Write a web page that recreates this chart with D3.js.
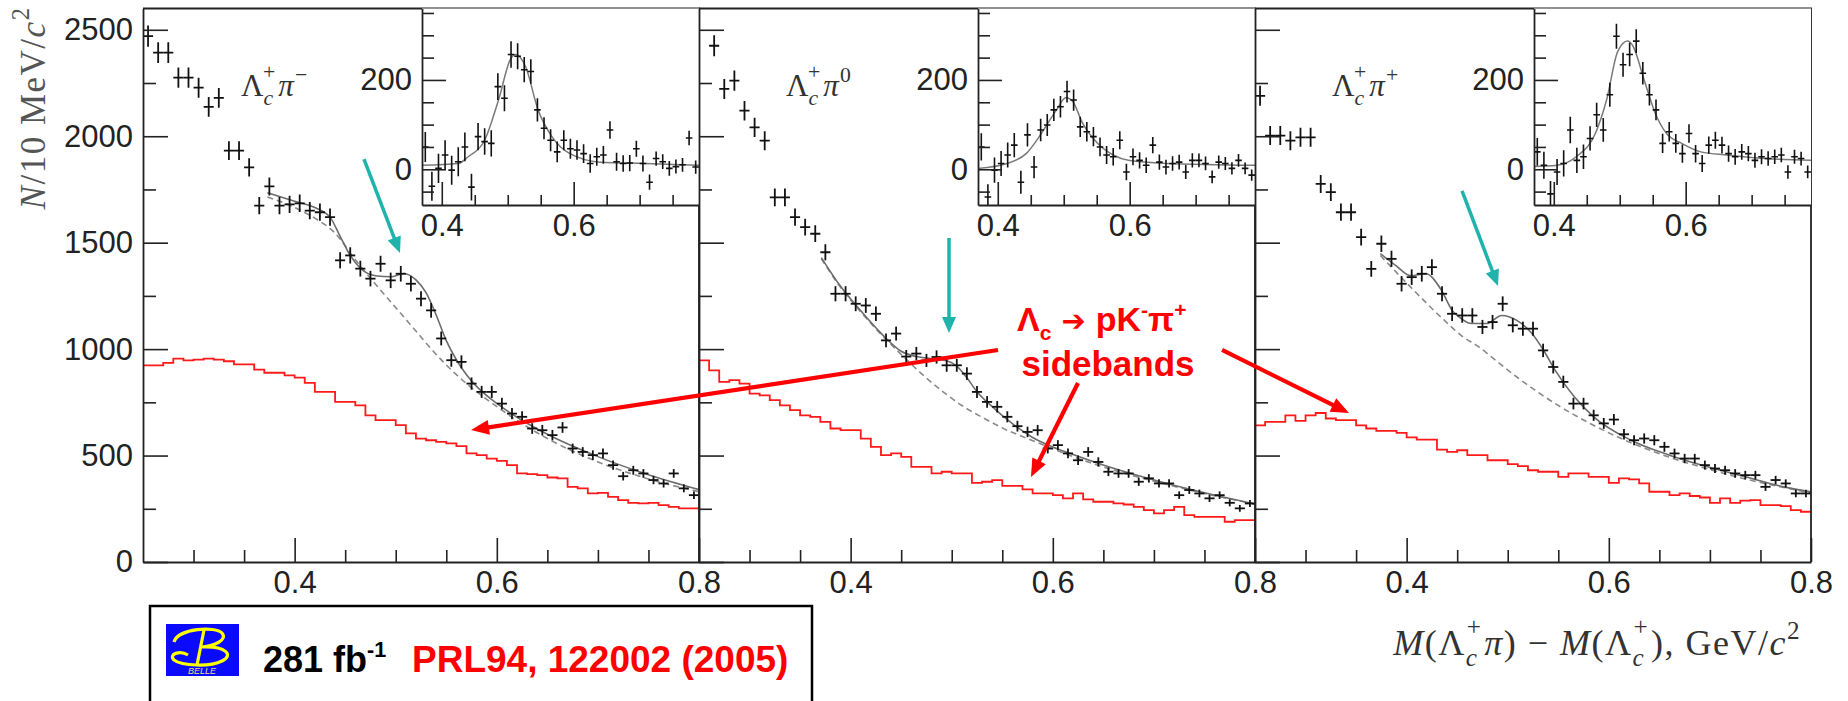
<!DOCTYPE html>
<html>
<head>
<meta charset="utf-8">
<title>Λc π mass-difference spectra</title>
<script src="https://cdn.jsdelivr.net/npm/d3@7/dist/d3.min.js"></script>
<style>
  html, body { margin: 0; padding: 0; background: #fff; }
  svg { display: block; }
</style>
</head>
<body>
<svg id="chart" width="1848" height="701"></svg>
<script>
// ---------- bin centres, GeV/c^2 (10 MeV bins) ----------
const massBins = [0.255,0.265,0.275,0.285,0.295,0.305,0.315,0.325,0.335,0.345,0.355,0.365,0.375,0.385,0.395,
  0.405,0.415,0.425,0.435,0.445,0.455,0.465,0.475,0.485,0.495,0.505,0.515,0.525,0.535,0.545,0.555,0.565,0.575,
  0.585,0.595,0.605,0.615,0.625,0.635,0.645,0.655,0.665,0.675,0.685,0.695,0.705,0.715,0.725,0.735,0.745,0.755,
  0.765,0.775,0.785,0.795];
const insetBins = [0.375,0.385,0.395,0.405,0.415,0.425,0.435,0.445,0.455,0.465,0.475,0.485,0.495,0.505,0.515,
  0.525,0.535,0.545,0.555,0.565,0.575,0.585,0.595,0.605,0.615,0.625,0.635,0.645,0.655,0.665,0.675,0.685,0.695,
  0.705,0.715,0.725,0.735,0.745,0.755,0.765,0.775,0.785];

// ---------- signal-region spectra, N / 10 MeV/c^2 ----------
const countsPiMinus = [2470,2393,2393,2275,2275,2228,2138,2180,1932,1932,1854,1674,1764,1674,1680,1685,1651,1643,
  1620,1417,1440,1378,1331,1401,1323,1354,1307,1237,1182,1050,948,940,838,799,799,744,697,682,627,619,596,632,533,
  517,502,510,455,403,431,416,385,369,416,346,314];
const countsPiZero = [2720,2425,2222,2261,2120,2042,1979,1713,1713,1620,1573,1542,1455,1260,1260,1213,1205,1166,
  1041,1073,965,979,947,963,924,924,885,799,752,729,682,638,611,619,533,549,510,478,517,470,424,416,416,377,393,
  369,369,314,338,322,299,314,278,252,275];
const countsPiPlus = [2190,2003,2003,1979,1995,1995,1776,1737,1643,1643,1526,1377,1495,1424,1307,1338,1354,1385,
  1260,1166,1158,1158,1104,1127,1213,1112,1096,1096,994,916,846,744,744,689,651,669,600,572,580,572,541,510,486,
  486,455,439,431,416,408,408,353,385,369,322,322];

// ---------- Λc → pK−π+ mass sidebands ----------
const sidebandPiMinus = [924,924,935,955,947,951,955,951,943,928,928,904,889,889,877,866,841,799,799,752,752,736,
  689,666,666,643,604,580,572,564,557,544,510,502,486,475,455,416,413,408,397,393,353,346,322,325,306,291,278,275,
  278,267,259,252,252];
const sidebandPiZero = [947,900,846,854,838,791,783,760,736,713,689,682,658,627,619,619,580,541,502,510,494,447,447,
  416,424,416,416,372,377,385,358,358,341,322,322,314,299,322,294,283,283,275,270,259,244,228,244,259,220,212,212,
  212,189,197,197];
const sidebandPiPlus = [642,658,658,689,663,689,700,674,666,666,642,627,616,616,607,585,575,575,528,517,525,502,502,
  478,478,460,450,431,424,424,400,416,416,400,400,372,393,388,369,330,330,314,322,310,303,278,299,278,288,291,267,
  267,262,244,236];

// ---------- total fit (solid) and background (dashed), [mass, N] ----------
const fitPiMinus = [[0.373,1735],[0.40,1695],[0.42,1665],[0.435,1620],[0.445,1530],[0.455,1440],[0.465,1380],
  [0.48,1345],[0.495,1340],[0.508,1355],[0.52,1325],[0.53,1265],[0.54,1160],[0.55,1040],[0.56,950],[0.57,880],
  [0.58,825],[0.60,745],[0.62,680],[0.65,600],[0.70,495],[0.75,410],[0.80,340]];
const bkgPiMinus = [[0.373,1715],[0.40,1665],[0.42,1615],[0.44,1545],[0.46,1420],[0.48,1305],[0.50,1195],
  [0.52,1085],[0.54,975],[0.56,880],[0.60,730],[0.65,580],[0.70,470],[0.75,390],[0.80,330]];
const fitPiZero = [[0.371,1430],[0.39,1295],[0.41,1180],[0.43,1075],[0.45,990],[0.465,965],[0.48,955],[0.495,945],
  [0.505,920],[0.515,865],[0.525,800],[0.54,730],[0.56,650],[0.58,585],[0.60,540],[0.62,505],[0.66,440],[0.70,385],
  [0.75,325],[0.80,272]];
const bkgPiZero = [[0.371,1425],[0.39,1290],[0.41,1175],[0.43,1070],[0.45,975],[0.47,885],[0.49,805],[0.51,735],
  [0.53,680],[0.55,630],[0.58,570],[0.62,495],[0.66,432],[0.70,380],[0.75,322],[0.80,272]];
const fitPiPlus = [[0.374,1448],[0.39,1390],[0.404,1345],[0.419,1354],[0.434,1280],[0.445,1182],[0.455,1140],
  [0.464,1120],[0.479,1120],[0.494,1158],[0.509,1135],[0.524,1073],[0.536,990],[0.547,900],[0.566,775],[0.585,682],
  [0.622,572],[0.66,502],[0.698,447],[0.735,400],[0.773,353],[0.80,330]];
const bkgPiPlus = [[0.374,1440],[0.404,1291],[0.434,1150],[0.456,1057],[0.47,1015],[0.49,940],[0.509,869],
  [0.547,744],[0.585,642],[0.622,560],[0.66,492],[0.698,437],[0.735,390],[0.773,350],[0.80,325]];

// ---------- background-subtracted insets ----------
const insetPiMinus = [50,-38,2,32,-2,17,50,-40,73,62,58,185,159,257,253,223,219,133,92,65,39,65,46,43,35,13,28,32,
  88,17,13,14,46,13,-29,24,17,2,6,10,70,5];
const insetPiZero = [50,-62,-2,13,32,54,-29,77,5,88,99,133,140,174,155,95,84,73,50,32,28,65,-6,28,20,9,54,16,5,13,
  16,-6,20,20,13,-17,16,13,2,20,2,-13];
const insetPiPlus = [39,9,-55,-6,13,88,20,28,69,122,88,167,298,234,257,287,215,167,133,58,84,58,35,80,35,13,54,65,
  54,35,28,39,35,20,28,24,28,32,-6,28,24,-6];
const insetFitPiMinus = [[0.37,9],[0.425,13],[0.44,28],[0.465,65],[0.486,155],[0.505,249],[0.512,257],[0.527,230],
  [0.546,133],[0.567,73],[0.593,36],[0.64,16],[0.708,13],[0.79,9]];
const insetFitPiZero = [[0.37,2],[0.414,13],[0.443,35],[0.466,80],[0.489,133],[0.503,160],[0.512,155],[0.529,102],
  [0.552,57],[0.575,32],[0.598,20],[0.655,13],[0.79,9]];
const insetFitPiPlus = [[0.37,6],[0.405,9],[0.434,28],[0.463,80],[0.48,155],[0.497,264],[0.512,287],[0.52,276],
  [0.537,200],[0.554,125],[0.571,80],[0.594,58],[0.623,39],[0.663,32],[0.72,24],[0.79,20]];

// ---------- axes ----------
const mainYTicks = [0, 500, 1000, 1500, 2000, 2500];
const mainYMinor = [250, 750, 1250, 1750, 2250];
const mainXTicks = [0.4, 0.6, 0.8];
const mainXMinor = [0.3, 0.35, 0.45, 0.5, 0.55, 0.65, 0.7, 0.75];
const insetYTicks = [0, 200];
const insetYMinor = [-50, 50, 100, 150, 250, 300, 350];
const insetXTicks = [0.4, 0.6];
const insetXMinor = [0.45, 0.5, 0.55, 0.65, 0.7, 0.75];

// ---------- annotation arrows: [panel, mass, N] ----------
const sidebandArrows = [
  [[1, 0.5458, 996], [0, 0.5745, 620]],
  [[1, 0.6249, 841], [1, 0.5784, 399]],
  [[1, 0.7674, 996], [2, 0.343, 700]]
];
const signalArrows = [
  [[0, 0.4686, 1893], [0, 0.5042, 1452]],
  [[1, 0.4973, 1522], [1, 0.4973, 1076]],
  [[2, 0.4548, 1743], [2, 0.4904, 1297]]
];

// ================= drawing =================
const svg = d3.select('#chart');
const SANS = "'Liberation Sans', Arimo, Arial, sans-serif";
const SERIF = "'Liberation Serif', 'Times New Roman', serif";
const INK = '#222';

const plotLeft = 143, plotRight = 1811, plotTop = 8.5, plotBottom = 562;
const panelWidth = (plotRight - plotLeft) / 3;
const insetOffset = 279, insetBottom = 205;
const insetErrScale = 0.8;   // inset uses a tighter selection

const y = d3.scaleLinear().domain([0, 2600]).range([plotBottom, plotTop]);
const yIn = d3.scaleLinear().domain([-80, 360]).range([insetBottom, plotTop]);
const x = d3.scaleLinear().domain([0.25, 0.8]).range([0, panelWidth]);
const xIn = d3.scaleLinear().domain([0.37, 0.79]).range([insetOffset, panelWidth]);

const panels = [
  { counts: countsPiMinus, side: sidebandPiMinus, fit: fitPiMinus, bkg: bkgPiMinus,
    inset: insetPiMinus, insetFit: insetFitPiMinus, charge: '−', labelX: 98 },
  { counts: countsPiZero, side: sidebandPiZero, fit: fitPiZero, bkg: bkgPiZero,
    inset: insetPiZero, insetFit: insetFitPiZero, charge: '0', labelX: 87 },
  { counts: countsPiPlus, side: sidebandPiPlus, fit: fitPiPlus, bkg: bkgPiPlus,
    inset: insetPiPlus, insetFit: insetFitPiPlus, charge: '+', labelX: 77 }
];

function richText(parent, px, py, segs, size, family, attrs) {
  const t = parent.append('text').attr('x', px).attr('y', py)
    .attr('font-family', family).attr('font-size', size);
  Object.entries(attrs || {}).forEach(([k, v]) => t.attr(k, v));
  segs.forEach(s => {
    const ts = t.append('tspan').text(s.t);
    if (s.i) ts.attr('font-style', 'italic');
    if (s.s) ts.attr('font-size', size * s.s);
    if (s.f) ts.attr('font-family', s.f);
    if (s.dx) ts.attr('dx', s.dx * size);
    if (s.dy) ts.attr('dy', s.dy * size);
  });
  return t;
}

// Λ_c^+ with stacked sub/superscript; the next segment returns to the baseline
const lambdaC = [{ t: 'Λ' }, { t: 'c', i: 1, s: 0.7, dy: 0.3 }, { t: '+', s: 0.7, dx: -0.33, dy: -0.85 }];

const defs = svg.append('defs');

function styleAxis(g, width) {
  g.selectAll('.domain').attr('stroke', INK).attr('stroke-width', width);
  g.selectAll('.tick line').attr('stroke', INK).attr('stroke-width', 1.6);
  g.selectAll('.tick text').attr('fill', INK).attr('font-family', SANS).attr('font-size', 31);
}

function drawCrosses(g, xs, vals, errs, xScale, yScale, halfW, sw) {
  const pts = g.append('g').attr('stroke', '#111').attr('stroke-width', sw).attr('fill', 'none');
  vals.forEach((v, k) => {
    const cx = xScale(xs[k]), cy = yScale(v);
    pts.append('line').attr('x1', cx).attr('x2', cx)
      .attr('y1', yScale(v - errs[k])).attr('y2', yScale(v + errs[k]));
    pts.append('line').attr('x1', xScale(xs[k] - halfW)).attr('x2', xScale(xs[k] + halfW))
      .attr('y1', cy).attr('y2', cy);
  });
}

panels.forEach((p, idx) => {
  const left = plotLeft + idx * panelWidth;
  const g = svg.append('g').attr('transform', `translate(${left},0)`);

  defs.append('clipPath').attr('id', `clip${idx}`).append('rect')
    .attr('x', 0).attr('y', plotTop).attr('width', panelWidth).attr('height', plotBottom - plotTop);
  defs.append('clipPath').attr('id', `clipIn${idx}`).append('rect')
    .attr('x', insetOffset).attr('y', plotTop).attr('width', panelWidth - insetOffset)
    .attr('height', insetBottom - plotTop);

  const data = g.append('g').attr('clip-path', `url(#clip${idx})`);

  // sideband histogram
  const steps = massBins.map((m, k) => [m - 0.005, p.side[k]]);
  steps.push([0.8, p.side[p.side.length - 1]]);
  data.append('path').datum(steps)
    .attr('d', d3.line().x(d => x(d[0])).y(d => y(d[1])).curve(d3.curveStepAfter))
    .attr('fill', 'none').attr('stroke', '#ff1a1a').attr('stroke-width', 1.8);

  // background and total fit
  data.append('path').datum(p.bkg)
    .attr('d', d3.line().x(d => x(d[0])).y(d => y(d[1])).curve(d3.curveMonotoneX))
    .attr('fill', 'none').attr('stroke', '#8a8a8a').attr('stroke-width', 1.6).attr('stroke-dasharray', '6,4');
  data.append('path').datum(p.fit)
    .attr('d', d3.line().x(d => x(d[0])).y(d => y(d[1])).curve(d3.curveMonotoneX))
    .attr('fill', 'none').attr('stroke', '#6c6c6c').attr('stroke-width', 1.6);

  // data points with Poisson errors
  drawCrosses(data, massBins, p.counts, p.counts.map(Math.sqrt), x, y, 0.005, 1.8);

  // axes
  const yMajor = d3.axisLeft(y).tickValues(mainYTicks).tickSizeInner(-25).tickSizeOuter(0).tickPadding(10)
    .tickFormat(idx > 0 ? '' : d3.format('d'));
  styleAxis(g.append('g').call(yMajor), 1.8);
  const yMin = g.append('g').call(d3.axisLeft(y).tickValues(mainYMinor).tickSizeInner(-13).tickSizeOuter(0).tickFormat(''));
  yMin.select('.domain').remove(); styleAxis(yMin, 1.8);

  const xMajor = g.append('g').attr('transform', `translate(0,${plotBottom})`)
    .call(d3.axisBottom(x).tickValues(mainXTicks).tickSizeInner(-24).tickSizeOuter(0).tickPadding(9).tickFormat(d3.format('.1f')));
  styleAxis(xMajor, 1.8);
  const xMin = g.append('g').attr('transform', `translate(0,${plotBottom})`)
    .call(d3.axisBottom(x).tickValues(mainXMinor).tickSizeInner(-12).tickSizeOuter(0).tickFormat(''));
  xMin.select('.domain').remove(); styleAxis(xMin, 1.8);

  // frame: top and right edges
  g.append('path').attr('d', `M0,${plotTop}H${panelWidth}V${plotBottom}`)
    .attr('fill', 'none').attr('stroke', INK).attr('stroke-width', 1.8);

  // channel label
  richText(g, p.labelX, 96,
    lambdaC.concat([{ t: 'π', i: 1, dx: 0.1, dy: 0.55 }, { t: p.charge, s: 0.7, dx: 0.04, dy: -0.45 }]),
    31, SERIF, { fill: '#333' });

  // ---- inset ----
  g.append('rect').attr('x', insetOffset).attr('y', plotTop)
    .attr('width', panelWidth - insetOffset).attr('height', insetBottom - plotTop).attr('fill', '#fff');
  const inData = g.append('g').attr('clip-path', `url(#clipIn${idx})`);
  inData.append('path').datum(p.insetFit)
    .attr('d', d3.line().x(d => xIn(d[0])).y(d => yIn(d[1])).curve(d3.curveMonotoneX))
    .attr('fill', 'none').attr('stroke', '#7a7a7a').attr('stroke-width', 1.5);
  const inErr = p.inset.map((v, k) => insetErrScale * Math.sqrt(p.counts[k + 12]));
  drawCrosses(inData, insetBins, p.inset, inErr, xIn, yIn, 0.005, 1.6);

  const iy = g.append('g').attr('transform', `translate(${insetOffset},0)`)
    .call(d3.axisLeft(yIn).tickValues(insetYTicks).tickSizeInner(-24).tickSizeOuter(0).tickPadding(10));
  styleAxis(iy, 1.8);
  const iyMin = g.append('g').attr('transform', `translate(${insetOffset},0)`)
    .call(d3.axisLeft(yIn).tickValues(insetYMinor).tickSizeInner(-12).tickSizeOuter(0).tickFormat(''));
  iyMin.select('.domain').remove(); styleAxis(iyMin, 1.8);
  const ix = g.append('g').attr('transform', `translate(0,${insetBottom})`)
    .call(d3.axisBottom(xIn).tickValues(insetXTicks).tickSizeInner(-23).tickSizeOuter(0).tickPadding(9).tickFormat(d3.format('.1f')));
  styleAxis(ix, 1.8);
  const ixMin = g.append('g').attr('transform', `translate(0,${insetBottom})`)
    .call(d3.axisBottom(xIn).tickValues(insetXMinor).tickSizeInner(-10).tickSizeOuter(0).tickFormat(''));
  ixMin.select('.domain').remove(); styleAxis(ixMin, 1.8);
});

// ---------- axis titles ----------
richText(svg, 0, 0, [{ t: 'N', i: 1 }, { t: '/10 MeV/' }, { t: 'c', i: 1 }, { t: '2', s: 0.7, dy: -0.45 }],
  35, SERIF, { fill: '#555', 'text-anchor': 'middle', 'letter-spacing': 1.5, transform: 'translate(45,108) rotate(-90)' });

richText(svg, 1801, 655,
  [{ t: 'M', i: 1 }, { t: '(' }].concat(lambdaC,
    [{ t: 'π', i: 1, dx: 0.05, dy: 0.55 }, { t: ') − ' }, { t: 'M', i: 1 }, { t: '(' }],
    lambdaC,
    [{ t: '),  GeV', dx: 0.05, dy: 0.55 }, { t: '/' }, { t: 'c', i: 1 }, { t: '2', s: 0.7, dy: -0.45 }]),
  36, SERIF, { fill: '#333', 'text-anchor': 'end', 'letter-spacing': 1.5 });

// ---------- annotations ----------
function toPx(pt) { return [plotLeft + pt[0] * panelWidth + x(pt[1]), y(pt[2])]; }
function arrow(a, b, color, width, headLen, headW) {
  const [x1, y1] = toPx(a), [x2, y2] = toPx(b);
  const L = Math.hypot(x2 - x1, y2 - y1), ux = (x2 - x1) / L, uy = (y2 - y1) / L;
  const bx = x2 - ux * headLen, by = y2 - uy * headLen;
  svg.append('line').attr('x1', x1).attr('y1', y1).attr('x2', bx + ux * 2).attr('y2', by + uy * 2)
    .attr('stroke', color).attr('stroke-width', width);
  svg.append('path')
    .attr('d', `M${x2},${y2}L${bx - uy * headW / 2},${by + ux * headW / 2}L${bx + uy * headW / 2},${by - ux * headW / 2}Z`)
    .attr('fill', color);
}
signalArrows.forEach(([a, b]) => arrow(a, b, '#1fb3ac', 3.5, 16, 14));
sidebandArrows.forEach(([a, b]) => arrow(a, b, '#ff0000', 4.2, 18, 15));

const red = { fill: '#ff0000', 'font-weight': 'bold' };
richText(svg, 1017, 331,
  [{ t: 'Λ' }, { t: 'c', s: 0.62, dy: 0.25 }, { t: ' ➔ ', f: "'DejaVu Sans', sans-serif", s: 0.85, dy: -0.25 },
   { t: 'pK' }, { t: '-', s: 0.62, dy: -0.4 }, { t: 'π', dy: 0.4 }, { t: '+', s: 0.62, dy: -0.4 }],
  34, SANS, red);
richText(svg, 1108, 376, [{ t: 'sidebands' }], 35, SANS, Object.assign({ 'text-anchor': 'middle' }, red));

// ---------- reference box ----------
svg.append('rect').attr('x', 150).attr('y', 606).attr('width', 662).attr('height', 130)
  .attr('fill', '#fff').attr('stroke', '#000').attr('stroke-width', 2.5);
const logo = svg.append('g').attr('transform', 'translate(166,624)');
logo.append('rect').attr('width', 73).attr('height', 52).attr('fill', '#0a0aff');
logo.append('path')
  .attr('d', 'M8,18 C12,4 50,2 56,9 C62,16 48,22 36,23 C60,22 68,31 56,37 C44,43 16,42 8,36 C2,30 14,26 22,31')
  .attr('fill', 'none').attr('stroke', '#ffff00').attr('stroke-width', 3.2);
logo.append('path').attr('d', 'M38,6 L31,41').attr('stroke', '#ffff00').attr('stroke-width', 3.2);
logo.append('text').attr('x', 36).attr('y', 49.5).attr('text-anchor', 'middle')
  .attr('font-family', SANS).attr('font-style', 'italic').attr('font-size', 9).attr('fill', '#e8e070').text('BELLE');

richText(svg, 263, 672, [{ t: '281 fb' }, { t: '-1', s: 0.6, dy: -0.42 }], 36, SANS,
  { fill: '#000', 'font-weight': 'bold' });
richText(svg, 412, 672, [{ t: 'PRL94, 122002 (2005)' }], 37, SANS, red);
</script>
</body>
</html>
